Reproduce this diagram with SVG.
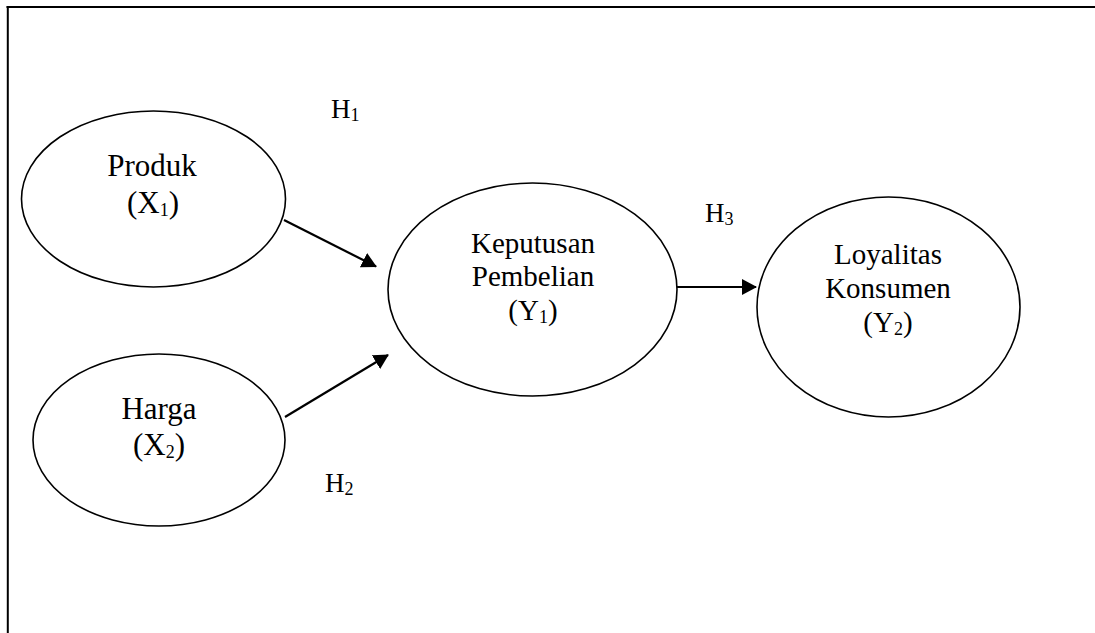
<svg xmlns="http://www.w3.org/2000/svg" width="1095" height="633" viewBox="0 0 1095 633">
<style>
.n{fill:#fff;stroke:#000;stroke-width:1.6}
.t{font-family:"Liberation Serif","Times New Roman",serif;font-size:29px;fill:#000;text-anchor:middle}
.b{font-size:31px}
.h{font-family:"Liberation Serif","Times New Roman",serif;font-size:27px;fill:#000}
.s{font-size:18px}
.c{stroke:#000;stroke-width:2.2;fill:none}
</style>
<defs>
<marker id="ah" viewBox="0 0 15 16" refX="14" refY="8" markerWidth="15" markerHeight="16" markerUnits="userSpaceOnUse" orient="auto">
<path d="M0,0 L15,8 L0,16 Z" fill="#000"/>
</marker>
</defs>
<rect width="1095" height="633" fill="#fff"/>
<g id="frame">
<line x1="6.5" y1="7" x2="1095" y2="7" stroke="#000" stroke-width="2"/>
<line x1="7.8" y1="6" x2="7.8" y2="633" stroke="#000" stroke-width="2"/>
</g>
<g id="connectors">
<line class="c" x1="284" y1="220" x2="376" y2="266.5" marker-end="url(#ah)"/>
<line class="c" x1="285" y1="417" x2="388" y2="355" marker-end="url(#ah)"/>
<line class="c" x1="677" y1="287" x2="756" y2="287" marker-end="url(#ah)"/>
</g>
<g id="produk">
<ellipse class="n" cx="153.5" cy="199" rx="132" ry="88"/>
<text class="t b" x="152" y="176">Produk</text>
<text class="t b" x="153" y="213">(X<tspan class="s" dy="3">1</tspan><tspan dy="-3">)</tspan></text>
</g>
<g id="harga">
<ellipse class="n" cx="159" cy="440" rx="126" ry="86"/>
<text class="t b" x="159" y="419">Harga</text>
<text class="t b" x="159" y="455">(X<tspan class="s" dy="3">2</tspan><tspan dy="-3">)</tspan></text>
</g>
<g id="keputusan">
<ellipse class="n" cx="532.5" cy="289.5" rx="144.5" ry="106.5"/>
<text class="t" x="533" y="253">Keputusan</text>
<text class="t" x="533" y="286">Pembelian</text>
<text class="t" x="533" y="320">(Y<tspan class="s" dy="3">1</tspan><tspan dy="-3">)</tspan></text>
</g>
<g id="loyalitas">
<ellipse class="n" cx="888.5" cy="307" rx="131.5" ry="110"/>
<text class="t" x="888" y="264">Loyalitas</text>
<text class="t" x="888" y="298">Konsumen</text>
<text class="t" x="888" y="332">(Y<tspan class="s" dy="3">2</tspan><tspan dy="-3">)</tspan></text>
</g>
<g id="labels">
<text class="h" x="331" y="118">H<tspan class="s" dy="3">1</tspan></text>
<text class="h" x="325" y="492">H<tspan class="s" dy="3">2</tspan></text>
<text class="h" x="705" y="222">H<tspan class="s" dy="3">3</tspan></text>
</g>
</svg>
